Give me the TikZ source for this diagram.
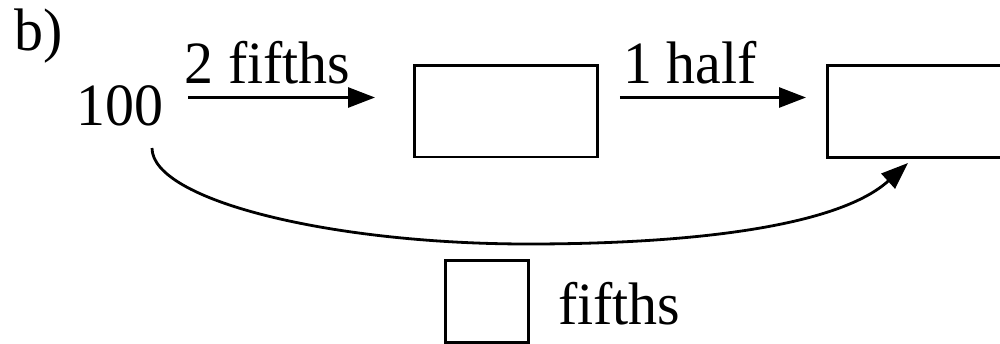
\documentclass[tikz,border=0pt]{standalone}
\usepackage{fontspec}
\setmainfont{Liberation Serif}[FakeStretch=0.965]
\usetikzlibrary{arrows.meta}
\begin{document}
\begin{tikzpicture}[x=1pt,y=-1pt,
  lbl/.style={inner sep=0pt, font=\fontsize{60}{62}\selectfont},
  box/.style={draw, line width=2.8pt, inner sep=0pt, anchor=north west},
  arr/.style={line width=2.8pt, -{Triangle[length=27pt,width=20pt]}}]
\path[use as bounding box, clip] (0,0) rectangle (1000,343);
\node[lbl, anchor=base west] (lb) at (14,50) {b)};
\node[lbl, anchor=base] (n100) at (120,125) {100};
\node[box, minimum width=183pt, minimum height=91.5pt] (box1) at (413,64) {};
\node[box, minimum width=200pt, minimum height=92pt] (box2) at (826,64) {};
\node[box, minimum width=83pt, minimum height=82pt] (box3) at (444,259) {};
\node[lbl, anchor=base] (t1) at (267.5,83) {2 fifths};
\node[lbl, anchor=base] (t2) at (690,83) {1 half};
\node[lbl, anchor=base west] (t3) at (558,324) {fifths};
\coordinate (yl) at (0,97.5);
\draw[arr, shorten <=24.5pt, shorten >=38pt] (n100.east |- yl) -- (box1.west |- yl);
\draw[arr, shorten <=21pt, shorten >=20pt] (box1.east |- yl) -- (box2.west |- yl);
\coordinate (c1) at (152,148);
\coordinate (c2) at (908,163);
\draw[arr] (c1) .. controls (152,200) and (330,244) .. (528,244)
  .. controls (700,244) and (840,225) .. (c2);
\end{tikzpicture}
\end{document}
